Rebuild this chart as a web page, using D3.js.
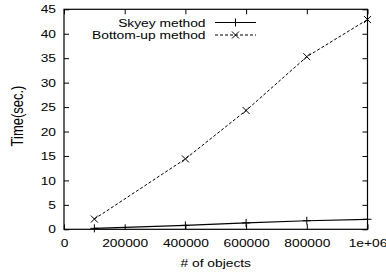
<!DOCTYPE html>
<html>
  <head>
    <meta charset='utf-8'>
    <script src='https://d3js.org/d3.v7.min.js'></script>
    <style>
body { margin: 0; background: #fff; }
svg text { font-family: 'Liberation Sans', Arial, sans-serif; fill: #000; }
    </style>
  </head>
  <body>
    <div id='chart'></div>
    <script>
        // data
        const objects = [100000, 400000, 600000, 800000, 1000000];
        const skyeyTimes = [0.2, 0.8, 1.3, 1.75, 2.05];
        const bottomUpTimes = [2.1, 14.4, 24.3, 35.3, 42.9];
        const seriesNames = ['Skyey method', 'Bottom-up method'];
        const xTicks = [0, 200000, 400000, 600000, 800000, 1000000];
        const xTickLabels = ['0', '200000', '400000', '600000', '800000', '1e+06'];
        const yTicks = [0, 5, 10, 15, 20, 25, 30, 35, 40, 45];

        const width = 386, height = 278;
        const margin = { left: 64, right: 18.5, top: 9.3, bottom: 48.7 };
        const fontSize = 11.5;
        const sx = 1.2; // the text in the picture is stretched sideways

        var svg = d3.select('#chart').append('svg')
            .attr('width', width)
            .attr('height', height);

        const x = d3.scaleLinear()
            .domain([0, 1000000])
            .range([margin.left, width - margin.right]);
        const y = d3.scaleLinear()
            .domain([0, 45])
            .range([height - margin.bottom, margin.top]);

        // axes, gnuplot style: ticks point inward and mirror on top/right
        var bottom = svg.append('g')
            .attr('transform', 'translate(0,' + y(0) + ')')
            .call(d3.axisBottom(x).tickValues(xTicks).tickSize(-5).tickPadding(9.5)
                .tickFormat(function(d, i) { return xTickLabels[i]; }));
        var left = svg.append('g')
            .attr('transform', 'translate(' + x(0) + ',0)')
            .call(d3.axisLeft(y).tickValues(yTicks).tickSize(-5).tickPadding(8));
        svg.append('g')
            .attr('transform', 'translate(0,' + y(45) + ')')
            .call(d3.axisTop(x).tickValues(xTicks).tickSize(-5).tickFormat(''));
        svg.append('g')
            .attr('transform', 'translate(' + x(1000000) + ',0)')
            .call(d3.axisRight(y).tickValues(yTicks).tickSize(-5).tickFormat(''));

        svg.selectAll('.domain').remove();
        svg.selectAll('.tick line').attr('stroke', '#000').attr('stroke-width', 1);
        svg.selectAll('.tick text')
            .attr('font-size', fontSize)
            .attr('font-family', "'Liberation Sans', Arial, sans-serif")
            .attr('transform', 'scale(' + sx + ',1)');
        left.selectAll('.tick text').attr('x', -8 / sx);

        // frame
        svg.append('rect')
            .attr('x', x(0))
            .attr('y', y(45))
            .attr('width', x(1000000) - x(0))
            .attr('height', y(0) - y(45))
            .attr('fill', 'none')
            .attr('stroke', '#000')
            .attr('stroke-width', 1.2);

        // axis titles
        svg.append('text')
            .attr('transform', 'translate(' + (x(0) + x(1000000)) / 2 + ',267) scale(' + sx + ',1)')
            .attr('text-anchor', 'middle')
            .attr('font-size', fontSize)
            .text('# of objects');
        svg.append('text')
            .attr('transform', 'translate(22.5,116) rotate(-90) scale(1,' + sx + ')')
            .attr('text-anchor', 'middle')
            .attr('font-size', 13)
            .text('Time(sec.)');

        const line = d3.line()
            .x(function(d) { return x(d[0]); })
            .y(function(d) { return y(d[1]); });

        function plus(g, cx, cy) {
            g.append('path')
                .attr('d', 'M' + (cx - 4) + ',' + cy + 'H' + (cx + 4) + 'M' + cx + ',' + (cy - 4) + 'V' + (cy + 4))
                .attr('stroke', '#000').attr('fill', 'none');
        }
        function cross(g, cx, cy) {
            var s = 3.5;
            g.append('path')
                .attr('d', 'M' + (cx - s) + ',' + (cy - s) + 'L' + (cx + s) + ',' + (cy + s) +
                           'M' + (cx - s) + ',' + (cy + s) + 'L' + (cx + s) + ',' + (cy - s))
                .attr('stroke', '#000').attr('fill', 'none');
        }

        var skyey = objects.map(function(d, i) { return [d, skyeyTimes[i]]; });
        var bottomUp = objects.map(function(d, i) { return [d, bottomUpTimes[i]]; });

        var plot = svg.append('g');
        plot.append('path')
            .datum(skyey)
            .attr('d', line)
            .attr('fill', 'none')
            .attr('stroke', '#000')
            .attr('stroke-width', 1.2);
        plot.append('path')
            .datum(bottomUp)
            .attr('d', line)
            .attr('fill', 'none')
            .attr('stroke', '#000')
            .attr('stroke-width', 1)
            .style('stroke-dasharray', '3, 2');
        skyey.forEach(function(d) { plus(plot, x(d[0]), y(d[1])); });
        bottomUp.forEach(function(d) { cross(plot, x(d[0]), y(d[1])); });

        // legend
        var legend = svg.append('g');
        const legendRows = [22.5, 35];
        seriesNames.forEach(function(name, i) {
            var ly = legendRows[i];
            legend.append('text')
                .attr('transform', 'translate(205.5,' + ly + ') scale(' + sx + ',1)')
                .attr('dy', '0.35em')
                .attr('text-anchor', 'end')
                .attr('font-size', fontSize)
                .text(name);
            var sample = legend.append('line')
                .attr('x1', 215).attr('x2', 256)
                .attr('y1', ly).attr('y2', ly)
                .attr('stroke', '#000');
            if (i == 0) {
                sample.attr('stroke-width', 1.2);
                plus(legend, 235.5, ly);
            } else {
                sample.style('stroke-dasharray', '3, 2');
                cross(legend, 235.5, ly);
            }
        });
    </script>
  </body>
</html>
